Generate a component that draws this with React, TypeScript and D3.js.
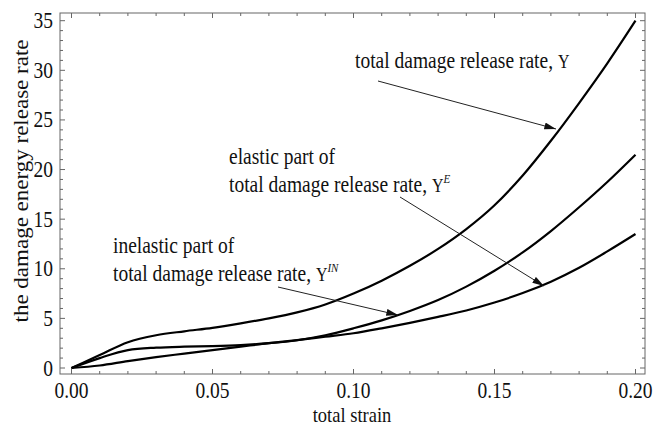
import React from 'react'
import * as d3 from 'd3'

// strain values (x) and the three release-rate curves
const strain = [0, 0.01, 0.02, 0.03, 0.04, 0.05, 0.06, 0.07, 0.08, 0.09, 0.1,
  0.11, 0.12, 0.13, 0.14, 0.15, 0.16, 0.17, 0.18, 0.19, 0.2]
const totalY = [0, 1.3, 2.6, 3.3, 3.7, 4.05, 4.5, 5.0, 5.6, 6.4, 7.5,
  8.8, 10.3, 12.0, 14.0, 16.4, 19.4, 22.9, 26.7, 30.7, 35.0]
const elasticY = [0, 1.0, 1.8, 2.05, 2.15, 2.2, 2.3, 2.5, 2.8, 3.3, 4.0,
  4.8, 5.75, 6.85, 8.2, 9.8, 11.65, 13.8, 16.2, 18.75, 21.5]
const inelasticY = [0, 0.25, 0.7, 1.1, 1.45, 1.8, 2.15, 2.5, 2.8, 3.15, 3.5,
  4.0, 4.55, 5.15, 5.8, 6.6, 7.55, 8.7, 10.1, 11.75, 13.5]

const xTicks = [0, 0.05, 0.1, 0.15, 0.2]
const yTicks = [0, 5, 10, 15, 20, 25, 30, 35]

const W = 656
const H = 425
const frame = { left: 60, right: 645, top: 13, bottom: 374 }
const font = '"Liberation Serif", "Times New Roman", serif'
const frameColor = '#666'
// the source picture is a bit stretched vertically, so text glyphs are taller than wide
const STRETCH = 1.15

// horizontal text, stretched vertically around its baseline
const T = ({ x, y, size, anchor = 'start', children }: any) => (
  <text transform={`translate(${x} ${y}) scale(1 ${STRETCH})`} textAnchor={anchor}
    fontFamily={font} fontSize={size} fill="#111">
    {children}
  </text>
)

const App = () => {
  const x = d3.scaleLinear().domain([0, 0.2]).range([71.5, 635.5])
  const y = d3.scaleLinear().domain([0, 35]).range([368, 20.7])

  const line = d3
    .line<number>()
    .x((_, i) => x(strain[i]))
    .y((d) => y(d))
    .curve(d3.curveMonotoneX)

  // minor ticks every 0.01 / 1 unit, 4 between majors
  const xMinor = d3.range(-2, 23).map((i) => i * 0.01).filter((v) => x(v) > frame.left && x(v) < frame.right)
  const yMinor = d3.range(-1, 37).filter((v) => y(v) > frame.top && y(v) < frame.bottom)

  return (
    <svg width={W} height={H} style={{ position: 'absolute', left: 0, top: 0, background: '#fff' }}>
      <defs>
        <marker id="head" viewBox="0 0 10 6" refX="10" refY="3" markerWidth="12" markerHeight="7" markerUnits="userSpaceOnUse" orient="auto">
          <path d="M0,0 L10,3 L0,6 Z" fill="#111" />
        </marker>
      </defs>

      {/* frame */}
      <rect x={frame.left} y={frame.top} width={frame.right - frame.left} height={frame.bottom - frame.top}
        fill="none" stroke={frameColor} strokeWidth={1} />

      {/* ticks on all four sides, pointing in */}
      {xMinor.map((v) => {
        const major = xTicks.some((t) => Math.abs(t - v) < 1e-9)
        const len = major ? 5 : 3
        return (
          <g key={`xt-${v}`} stroke={frameColor}>
            <line x1={x(v)} x2={x(v)} y1={frame.bottom} y2={frame.bottom - len} />
            <line x1={x(v)} x2={x(v)} y1={frame.top} y2={frame.top + len} />
          </g>
        )
      })}
      {yMinor.map((v) => {
        const len = v % 5 === 0 ? 5 : 3
        return (
          <g key={`yt-${v}`} stroke={frameColor}>
            <line x1={frame.left} x2={frame.left + len} y1={y(v)} y2={y(v)} />
            <line x1={frame.right} x2={frame.right - len} y1={y(v)} y2={y(v)} />
          </g>
        )
      })}

      {/* tick labels */}
      {xTicks.map((t) => (
        <T key={`xl-${t}`} x={x(t)} y={398} size={19.5} anchor="middle">{d3.format('.2f')(t)}</T>
      ))}
      {yTicks.map((t) => (
        <T key={`yl-${t}`} x={53} y={y(t) + 7.5} size={19.5} anchor="end">{t}</T>
      ))}

      {/* axis titles */}
      <T x={352} y={422} size={18.5} anchor="middle">total strain</T>
      <text transform={`translate(28 181) rotate(-90) scale(${STRETCH} 1)`} textAnchor="middle" fontFamily={font} fontSize={20} fill="#111">
        the damage energy release rate
      </text>

      {/* curves */}
      <g fill="none" stroke="#000" strokeWidth={2.2}>
        <path d={line(totalY) || ''} />
        <path d={line(elasticY) || ''} />
        <path d={line(inelasticY) || ''} />
      </g>

      {/* annotations */}
      <T x={355} y={68} size={19.5}>total damage release rate, <tspan fontSize={16}>Y</tspan></T>
      <T x={229} y={164} size={19.5}>elastic part of</T>
      <T x={229} y={192} size={19.5}>total damage release rate, <tspan fontSize={16}>Y</tspan><tspan fontSize={11} fontStyle="italic" dy={-8}>E</tspan></T>
      <T x={113} y={253} size={19.5}>inelastic part of</T>
      <T x={113} y={281} size={19.5}>total damage release rate, <tspan fontSize={16}>Y</tspan><tspan fontSize={11} fontStyle="italic" dy={-8}>IN</tspan></T>

      <g stroke="#222" strokeWidth={1}>
        <line x1={378} y1={81} x2={556} y2={129} markerEnd="url(#head)" />
        <line x1={400} y1={197} x2={544} y2={286} markerEnd="url(#head)" />
        <line x1={278} y1={287} x2={398} y2={315} markerEnd="url(#head)" />
      </g>
    </svg>
  )
}

export default App
